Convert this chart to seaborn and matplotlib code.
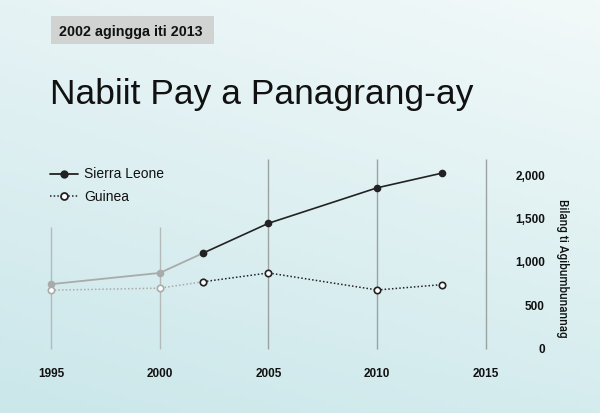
import numpy as np
import pandas as pd
import matplotlib
matplotlib.use("Agg")
import matplotlib.pyplot as plt
import seaborn as sns
from matplotlib.lines import Line2D
from matplotlib.patches import Rectangle

# ---------------- data ----------------
years = [1995, 2000, 2002, 2005, 2010, 2013]
sierra_leone = [745, 874, 1103, 1445, 1853, 2023]
guinea = [676, 699, 773, 874, 678, 740]
highlight_start = 2002
x_ticks = [1995, 2000, 2005, 2010, 2015]
y_ticks = [0, 500, 1000, 1500, 2000]
y_tick_labels = ["0", "500", "1,000", "1,500", "2,000"]
grid_tops = [1400, 1400, 2185, 2185, 2185]
series_names = ["Sierra Leone", "Guinea"]
title = "Nabiit Pay a Panagrang-ay"
subtitle = "2002 agingga iti 2013"
y_label = "Bilang ti Agibumbunannag"

# ---------------- style ----------------
sns.set_theme(style="white")
plt.rcParams["font.family"] = ["Liberation Sans", "DejaVu Sans"]

W, H = 600, 413
fig = plt.figure(figsize=(W / 100, H / 100), dpi=100)

# background gradient
bg = fig.add_axes([0, 0, 1, 1], zorder=-10)
tl = np.array([230, 243, 245]) / 255
tr = np.array([242, 249, 249]) / 255
bl = np.array([203, 231, 234]) / 255
br = np.array([213, 236, 238]) / 255
u = np.linspace(0, 1, 120)[None, :, None]
v = np.linspace(0, 1, 90)[:, None, None]
img = (1 - v) * ((1 - u) * tl + u * tr) + v * ((1 - u) * bl + u * br)
bg.imshow(img, aspect="auto", extent=[0, 1, 0, 1])
bg.set_axis_off()

# main axes
x0, x1 = 1994.5, 2015.7
y0, y1 = -20, 2230
ax = fig.add_axes([40.1 / W, (H - 350.7) / H, 461.1 / W, 195.7 / H])
ax.patch.set_alpha(0)
ax.set_xlim(x0, x1)
ax.set_ylim(y0, y1)
for s in ax.spines.values():
    s.set_visible(False)

# vertical grid lines
grid_colors = ["#b4baba" if x < highlight_start else "#9ca2a2" for x in x_ticks]
ax.vlines(x_ticks, 0, grid_tops, colors=grid_colors, lw=1.0, zorder=1)

df = pd.DataFrame({"year": years, "Sierra Leone": sierra_leone, "Guinea": guinea})
faded = df[df.year <= highlight_start]
bright = df[df.year >= highlight_start]

dark = "#222222"
gray = "#a9abab"
dots = (0, (1.0, 1.4))

# faded part
sns.lineplot(data=faded, x="year", y="Sierra Leone", ax=ax, color=gray, lw=1.3,
             marker="o", markersize=5.5, markeredgewidth=0, zorder=3)
sns.lineplot(data=faded, x="year", y="Guinea", ax=ax, color=gray, lw=1.1,
             linestyle=dots, marker="o", markersize=4.6, markerfacecolor="white",
             markeredgecolor=gray, markeredgewidth=1.2, zorder=3)
# highlighted part
sns.lineplot(data=bright, x="year", y="Sierra Leone", ax=ax, color=dark, lw=1.2,
             marker="o", markersize=5.5, markeredgewidth=0, zorder=4)
sns.lineplot(data=bright, x="year", y="Guinea", ax=ax, color=dark, lw=1.1,
             linestyle=dots, marker="o", markersize=4.6, markerfacecolor="white",
             markeredgecolor=dark, markeredgewidth=1.2, zorder=4)

# ticks
ax.set_xticks(x_ticks)
ax.set_xticklabels([str(x) for x in x_ticks], fontsize=8.5, fontweight="bold", color="#111111")
ax.tick_params(axis="x", length=0, pad=12.5)
ax.yaxis.tick_right()
ax.set_yticks(y_ticks)
ax.set_yticklabels(y_tick_labels, fontsize=8.5, fontweight="bold", color="#111111")
ax.tick_params(axis="y", length=0, pad=31.5)
for lab in ax.get_yticklabels():
    lab.set_horizontalalignment("right")
ax.set_xlabel("")
ax.yaxis.set_label_position("right")
ax.set_ylabel(y_label, rotation=270, fontsize=8.4, color="#111111", ha="center",
              va="center", family=["Roboto", "Liberation Sans", "DejaVu Sans"],
              fontweight="medium")
ax.yaxis.set_label_coords((563 - 40.1) / 461.1, (350.7 - 268.3) / 195.7)

# legend
handles = [
    Line2D([], [], color=dark, lw=1.3, marker="o", markersize=6, markeredgewidth=0),
    Line2D([], [], color=dark, lw=1.1, linestyle=dots, marker="o", markersize=5,
           markerfacecolor="white", markeredgecolor=dark, markeredgewidth=1.3),
]
leg = ax.legend(handles, series_names, loc="upper left",
                bbox_to_anchor=(50 / W, (H - 167.5) / H), bbox_transform=fig.transFigure,
                frameon=False, borderpad=0, borderaxespad=0, fontsize=10,
                handlelength=2.0, handletextpad=0.45, labelspacing=0.6)
for t in leg.get_texts():
    t.set_color("#111111")

# subtitle box and title
fig.patches.append(Rectangle((50.7 / W, (H - 43.7) / H), (214.3 - 50.7) / W, 27.7 / H,
                             transform=fig.transFigure, facecolor="#d1d2d2",
                             edgecolor="none", zorder=1))
fig.text(59 / W, (H - 35.7) / H, subtitle, fontsize=10.3, fontweight="bold",
         color="#111111", va="baseline", ha="left", zorder=2)
fig.text(50 / W, (H - 104) / H, title, fontsize=25.5, color="#111111",
         va="baseline", ha="left")

fig.savefig("out.png", dpi=100)
